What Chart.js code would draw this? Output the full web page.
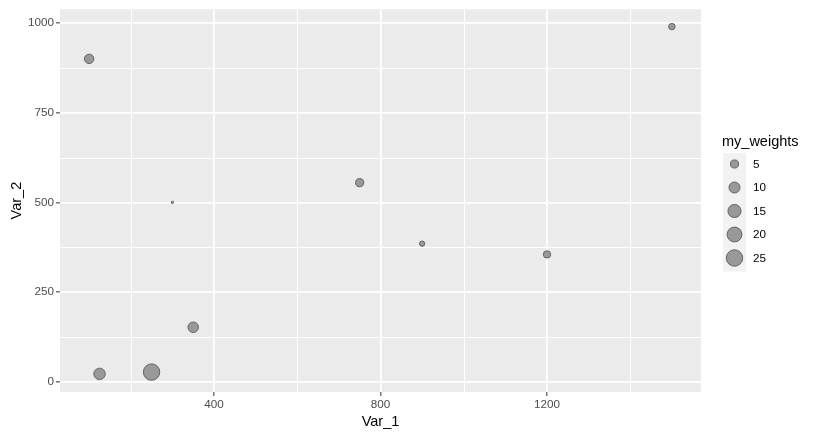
<!DOCTYPE html>
<html>
<head>
<meta charset="utf-8">
<script src="https://cdn.jsdelivr.net/npm/chart.js@4/dist/chart.umd.min.js"></script>
<style>
  html,body{margin:0;padding:0;background:#fff;}
  #wrap{width:816px;height:437px;position:relative;}
</style>
</head>
<body>
<div id="wrap"><canvas id="chart" width="816" height="437"></canvas></div>
<script>
// data
const var1=[100,125,250,300,350,750,900,1200,1500]
const var2=[900,22,27,500,152,555,385,355,990]
const myWeights=[7,11,25,1,9,5,2,4,3]
const legendBreaks=[5,10,15,20,25]
const xTicks=[400,800,1200]
const yTicks=[0,250,500,750,1000]
const xMinor=[200,600,1000,1400]
const yMinor=[125,375,625,875]

// ggplot-ish area scale: weight -> radius in px
const wMin=Math.min(...myWeights), wMax=Math.max(...myWeights)
const rMin=1.7, rMax=8.7
function radius(w){
    return rMin+(rMax-rMin)*Math.sqrt((w-wMin)/(wMax-wMin))
}

const FILL='#999999', EDGE='#636363'
const FONT='"Liberation Sans", Arial, sans-serif'

const points=var1.map((x,i)=>({x:x,y:var2[i],r:radius(myWeights[i])-0.5}))

const panelBg={
    id:'panelBg',
    beforeDraw(c){
        const a=c.chartArea, ctx=c.ctx
        ctx.save()
        ctx.fillStyle='#EBEBEB'
        ctx.fillRect(a.left,a.top,a.right-a.left,a.bottom-a.top)
        ctx.restore()
    },
    beforeDatasetsDraw(c){
        // minor grid
        const a=c.chartArea, ctx=c.ctx
        ctx.save()
        ctx.strokeStyle='#FFFFFF'
        ctx.lineWidth=1
        xMinor.forEach(v=>{
            const px=Math.round(c.scales.x.getPixelForValue(v))+0.5
            ctx.beginPath();ctx.moveTo(px,a.top);ctx.lineTo(px,a.bottom);ctx.stroke()
        })
        yMinor.forEach(v=>{
            const py=Math.round(c.scales.y.getPixelForValue(v))+0.5
            ctx.beginPath();ctx.moveTo(a.left,py);ctx.lineTo(a.right,py);ctx.stroke()
        })
        ctx.restore()
    }
}

const sizeLegend={
    id:'sizeLegend',
    afterDraw(c){
        const ctx=c.ctx
        const left=723, top=153, w=23, step=23.5
        ctx.save()
        ctx.fillStyle='#000'
        ctx.font='14.5px '+FONT
        ctx.textBaseline='middle'
        ctx.textAlign='left'
        ctx.fillText('my_weights',722,142)
        ctx.fillStyle='#F2F2F2'
        ctx.fillRect(left,top,w,step*legendBreaks.length+1)
        legendBreaks.forEach((b,i)=>{
            const cy=top+11+step*i
            ctx.beginPath()
            ctx.arc(left+w/2,cy,radius(b)-0.5,0,Math.PI*2)
            ctx.fillStyle=FILL
            ctx.fill()
            ctx.strokeStyle=EDGE
            ctx.lineWidth=1
            ctx.stroke()
            ctx.fillStyle='#000'
            ctx.font='11.7px '+FONT
            ctx.fillText(String(b),753,cy+0.5)
        })
        ctx.restore()
    }
}

const chart=document.querySelector('#chart').getContext('2d')

new Chart(chart,{
    type:'bubble',
    data:{
        datasets:[
            {
                label:'my_weights',
                data:points,
                backgroundColor:FILL,
                borderColor:EDGE,
                borderWidth:1,
                hoverRadius:0
            }
        ]
    },
    options:{
        responsive:false,
        animation:false,
        devicePixelRatio:1,
        layout:{padding:{top:7,right:115,left:0,bottom:0}},
        plugins:{legend:{display:false},tooltip:{enabled:false}},
        scales:{
            x:{
                type:'linear',
                min:30,max:1570,
                afterBuildTicks(s){
                    s.ticks=xTicks.map(v=>({value:v}))
                },
                afterFit(s){s.height=45},
                border:{display:false},
                grid:{
                    color:'#FFFFFF',
                    lineWidth:1.7,
                    tickColor:'#333333',
                    tickLength:4,
                    tickWidth:1
                },
                ticks:{
                    autoSkip:false,
                    maxRotation:0,
                    padding:2,
                    color:'#4D4D4D',
                    font:{family:FONT,size:11.7},
                    callback:v=>String(v)
                },
                title:{
                    display:true,text:'Var_1',color:'#000',
                    font:{family:FONT,size:14.5},
                    padding:{top:0,bottom:6}
                }
            },
            y:{
                type:'linear',
                min:-28.5,max:1038.5,
                afterBuildTicks(s){
                    s.ticks=yTicks.map(v=>({value:v}))
                },
                afterFit(s){s.width=60},
                border:{display:false},
                grid:{
                    color:'#FFFFFF',
                    lineWidth:1.7,
                    tickColor:'#333333',
                    tickLength:4,
                    tickWidth:1
                },
                ticks:{
                    autoSkip:false,
                    padding:2,
                    color:'#4D4D4D',
                    font:{family:FONT,size:11.7},
                    callback:v=>String(v)
                },
                title:{
                    display:true,text:'Var_2',color:'#000',
                    font:{family:FONT,size:14.5},
                    padding:{top:8,bottom:0}
                }
            }
        }
    },
    plugins:[panelBg,sizeLegend]
})
</script>
</body>
</html>
